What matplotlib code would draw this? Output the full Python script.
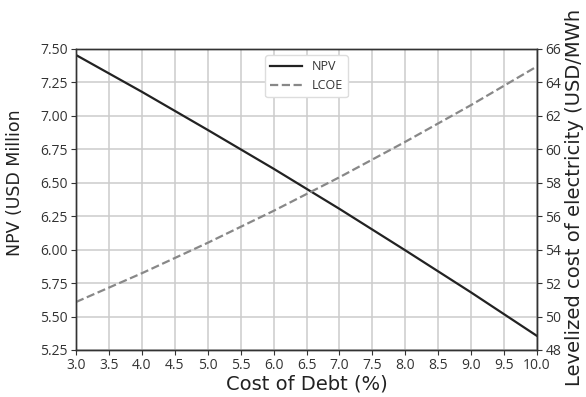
import numpy as np
import matplotlib.pyplot as plt

# cost of debt (%) vs project results
debt = [3.0, 4.0, 5.0, 6.0, 7.0, 8.0, 9.0, 10.0]
npv = [7.455, 7.18, 6.895, 6.605, 6.305, 5.995, 5.68, 5.355]
lcoe = [50.87, 52.59, 54.41, 56.32, 58.33, 60.45, 62.65, 64.96]

x_ticks = np.arange(3.0, 10.01, 0.5)
npv_ticks = np.arange(5.25, 7.51, 0.25)
lcoe_ticks = np.arange(48, 67, 2)

tick_font = ['Open Sans', 'DejaVu Sans']
label_font = 'DejaVu Sans'
ink = '#333333'

fig = plt.figure(figsize=(5.86, 3.97), dpi=100)
ax = fig.add_axes([0.1297, 0.1184, 0.7867, 0.7582])
ax2 = ax.twinx()

l1, = ax.plot(debt, npv, color='#222222', lw=1.6, label='NPV')
l2, = ax2.plot(debt, lcoe, color='#888888', lw=1.6, ls='--', label='LCOE')

ax.set_xlim(3.0, 10.0)
ax.set_ylim(5.25, 7.5)
ax2.set_ylim(48, 66)
ax.set_xticks(x_ticks)
ax.set_xticklabels([f'{v:.1f}' for v in x_ticks])
ax.set_yticks(npv_ticks)
ax.set_yticklabels([f'{v:.2f}' for v in npv_ticks])
ax2.set_yticks(lcoe_ticks)
ax2.set_yticklabels([str(v) for v in lcoe_ticks])

ax.grid(True, color='#cccccc', lw=1.1)
ax.set_axisbelow(True)

for a in (ax, ax2):
    a.tick_params(labelsize=10, colors=ink, length=3.5, width=0.8, pad=2.5)
    for lab in a.get_xticklabels() + a.get_yticklabels():
        lab.set_fontfamily(tick_font)
    for s in a.spines.values():
        s.set_color(ink)
        s.set_linewidth(1.0)

fig.text(15 / 586, 1 - 256 / 397, 'NPV (USD Million', rotation=90,
         ha='center', va='bottom', fontsize=12.5, family=label_font, color='#222222')
fig.text(575 / 586, 1 - 386 / 397, 'Levelized cost of electricity (USD/MWh',
         rotation=90, ha='center', va='bottom', fontsize=14, family=label_font,
         color='#222222')
ax.set_xlabel('Cost of Debt (%)', fontsize=14, family=label_font,
              color='#222222', labelpad=1)

leg = ax.legend(handles=[l1, l2], loc='upper center',
                prop={'family': tick_font, 'size': 9},
                handlelength=2.5, framealpha=1, edgecolor='#dddddd')
for t in leg.get_texts():
    t.set_color(ink)

fig.savefig('out.png', dpi=100)
